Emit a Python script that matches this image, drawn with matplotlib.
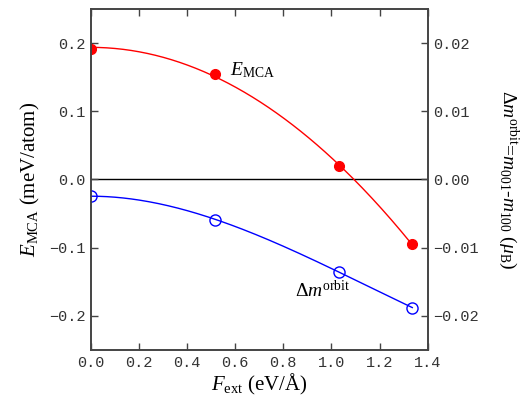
import numpy as np
import matplotlib
matplotlib.use('Agg')
import matplotlib.pyplot as plt

plt.rcParams['mathtext.fontset'] = 'custom'
plt.rcParams['mathtext.rm'] = 'Liberation Serif'
plt.rcParams['mathtext.it'] = 'Liberation Serif:italic'
plt.rcParams['mathtext.bf'] = 'Liberation Serif:bold'
plt.rcParams['font.family'] = 'Liberation Serif'

# data
f_ext = [0.0, 0.515, 1.03, 1.336]
e_mca = [0.192, 0.154, 0.020, -0.095]          # meV/atom (left axis)
dm_orbit = [-0.0024, -0.0059, -0.0135, -0.0188]  # mu_B (right axis)

red = '#ff0000'
blue = '#0000ff'
spine_col = '#444444'


def smooth(x, y, n=200):
    # least squares curve a + b*x^2 + c*x^3 (flat start at F=0)
    x = np.asarray(x)
    A = np.vstack([np.ones_like(x), x**2, x**3]).T
    coef = np.linalg.lstsq(A, np.asarray(y), rcond=None)[0]
    xs = np.linspace(x[0], x[-1], n)
    return xs, coef[0] + coef[1] * xs**2 + coef[2] * xs**3


fig = plt.figure(figsize=(5.29, 3.98), dpi=100)
ax = fig.add_axes([0.1715, 0.1206, 0.637, 0.8568])
ax2 = ax.twinx()

xs, ys = smooth(f_ext, e_mca)
ax.plot(xs, ys, color=red, lw=1)
ax.plot(f_ext, e_mca, 'o', color=red, ms=7)
xs, ys = smooth(f_ext, dm_orbit)
ax2.plot(xs, ys, color=blue, lw=1)
ax2.plot(f_ext, dm_orbit, 'o', mfc='none', mec=blue, ms=8, mew=1)

ax.axhline(0, color='black', lw=1, zorder=0)

ax.set_xlim(0, 1.4)
ax.set_ylim(-0.25, 0.25)
ax2.set_ylim(-0.025, 0.025)
ax.set_xticks(np.arange(0, 1.41, 0.2))
ax.set_yticks([-0.2, -0.1, 0.0, 0.1, 0.2])
ax2.set_yticks([-0.02, -0.01, 0.0, 0.01, 0.02])
ax.set_xticklabels([f'{v:.1f}' for v in np.arange(0, 1.41, 0.2)])
ax.set_yticklabels(['\u22120.2', '\u22120.1', '0.0', '0.1', '0.2'])
ax2.set_yticklabels(['\u22120.02', '\u22120.01', '0.00', '0.01', '0.02'])

for a in (ax, ax2):
    for s in a.spines.values():
        s.set_color(spine_col)
        s.set_linewidth(1.2)
    a.tick_params(direction='in', length=5, width=1, color=spine_col, pad=4,
                  labelsize=11, labelcolor='#333333')
    for lab in a.get_xticklabels() + a.get_yticklabels():
        lab.set_family('Liberation Mono')
ax.tick_params(top=True)

ax.set_xlabel(r'$F_{\rm ext}$ (eV/Å)', fontsize=15, labelpad=2)
ax.set_ylabel(r'$E_{\rm MCA}$ (meV/atom)', fontsize=15, labelpad=5)
ax2.set_ylabel(r'$\mathit{\Delta m}^{\rm orbit}$=$m_{001}$-$m_{100}$ ($\mu_{\rm B}$)',
               fontsize=14, rotation=-90, labelpad=30)

ax.text(0.58, 0.16, r'$E_{\rm MCA}$', fontsize=14, ha='left', va='center')
ax.text(0.85, -0.163, r'$\mathit{\Delta m}^{\rm orbit}$', fontsize=14, ha='left', va='center')

fig.savefig('out.png', dpi=100)
